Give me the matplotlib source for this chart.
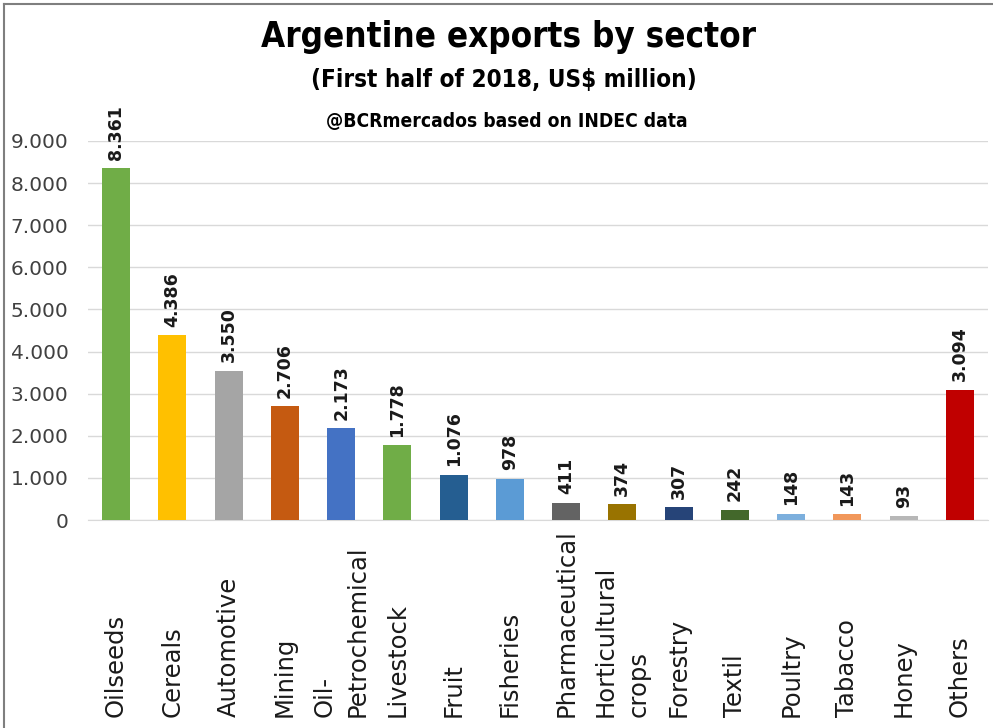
import matplotlib
matplotlib.use("Agg")
import matplotlib.pyplot as plt
from matplotlib.transforms import blended_transform_factory
from matplotlib.lines import Line2D

categories = ["Oilseeds", "Cereals", "Automotive", "Mining", "Oil-\nPetrochemical",
              "Livestock", "Fruit", "Fisheries", "Pharmaceutical", "Horticultural\ncrops",
              "Forestry", "Textil", "Poultry", "Tabacco", "Honey", "Others"]
values = [8361, 4386, 3550, 2706, 2173, 1778, 1076, 978, 411, 374, 307, 242, 148, 143, 93, 3094]
value_labels = ["8.361", "4.386", "3.550", "2.706", "2.173", "1.778", "1.076", "978",
                "411", "374", "307", "242", "148", "143", "93", "3.094"]
colors = ["#70AD47", "#FFC000", "#A5A5A5", "#C55A11", "#4472C4", "#70AD47", "#255E91",
          "#5B9BD5", "#636363", "#997300", "#264478", "#43682B", "#7CAFDD", "#F1975A",
          "#B7B7B7", "#C00000"]
yticks = [0, 1000, 2000, 3000, 4000, 5000, 6000, 7000, 8000, 9000]
ytick_labels = ["0", "1.000", "2.000", "3.000", "4.000", "5.000", "6.000", "7.000", "8.000", "9.000"]

title_font = ["DejaVu Sans"]

fig = plt.figure(figsize=(9.93, 7.28), dpi=100)
W, H = 993, 728
ax = fig.add_axes([88 / W, 1 - 520 / H, 900 / W, (520 - 141) / H])

x = list(range(len(categories)))
ax.bar(x, values, width=0.5, color=colors, zorder=3)
ax.set_xlim(-0.5, len(categories) - 0.5)
ax.set_ylim(0, 9000)
ax.set_yticks(yticks)
ax.set_yticklabels(ytick_labels, fontsize=14.5, color="#404040")
ax.tick_params(axis="y", length=0, pad=14)
ax.set_xticks([])
ax.grid(axis="y", color="#D9D9D9", linewidth=1, zorder=0)
for s in ["top", "right", "left"]:
    ax.spines[s].set_visible(False)
ax.spines["bottom"].set_color("#D9D9D9")

for xi, v, lab in zip(x, values, value_labels):
    ax.annotate(lab, (xi, v), xytext=(0, 6), textcoords="offset points",
                rotation=90, ha="center", va="bottom", fontsize=12.5,
                fontweight="bold", color="#1a1a1a", clip_on=False)

tr = blended_transform_factory(ax.transData, fig.transFigure)
for xi, cat in zip(x, categories):
    ax.text(xi, 1 - 717 / H, cat, transform=tr, rotation=90, ha="center", va="bottom",
            multialignment="left", fontsize=17.5, color="#1a1a1a", linespacing=1.45)

fig.text(0.512, 1 - 37 / H, "Argentine exports by sector", ha="center", va="center",
         fontsize=25, fontweight="bold", fontstretch="condensed", family=title_font)
fig.text(0.507, 1 - 80 / H, "(First half of 2018, US$ million)", ha="center", va="center",
         fontsize=17.4, fontweight="bold", fontstretch="condensed", family=title_font)
fig.text(0.51, 1 - 122 / H, "@BCRmercados based on INDEC data", ha="center", va="center",
         fontsize=13.8, fontweight="bold", fontstretch="condensed", family=title_font)

fig.add_artist(Line2D([4 / W, 4 / W], [0, 1 - 4 / H], transform=fig.transFigure,
                      color="#7f7f7f", linewidth=1.5))
fig.add_artist(Line2D([4 / W, 1], [1 - 4 / H, 1 - 4 / H], transform=fig.transFigure,
                      color="#7f7f7f", linewidth=1.5))

fig.savefig("out.png", dpi=100)
